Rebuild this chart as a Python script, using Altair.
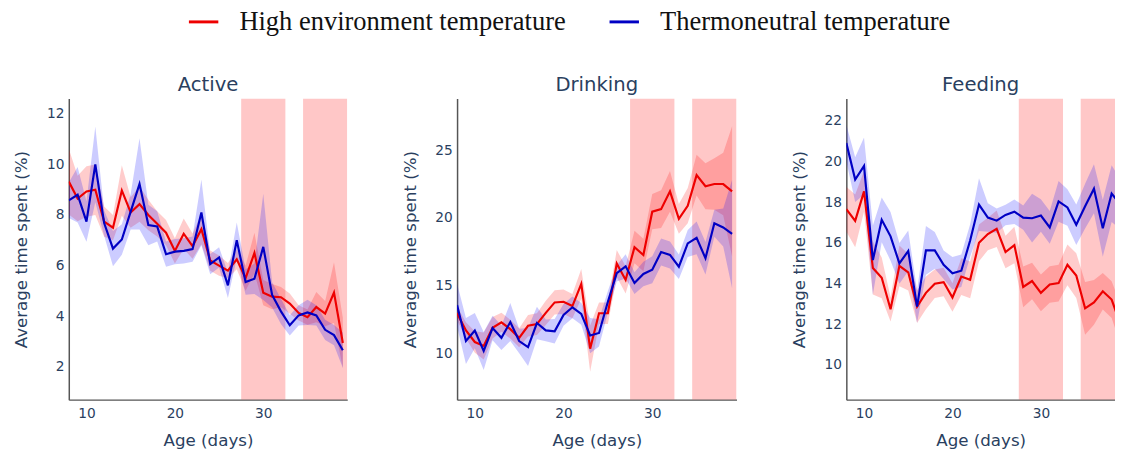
import altair as alt
import pandas as pd

days = list(range(8, 40))
groups = ["High environment temperature", "Thermoneutral temperature"]
panels = ["Active", "Drinking", "Feeding"]

active_high = [9.32, 8.65, 8.93, 9.0, 7.74, 7.5, 8.97, 8.1, 8.43, 8.0, 7.65, 7.3, 6.58, 7.26, 6.77, 7.44,
               6.2, 6.0, 5.8, 6.25, 5.5, 6.5, 4.93, 4.77, 4.75, 4.5, 4.13, 3.96, 4.36, 4.1, 4.93, 2.94]
active_high_err = [1.3, 0.9, 1.0, 1.0, 0.6, 0.5, 1.0, 0.6, 0.7, 0.6, 0.5, 0.5, 0.5, 0.6, 0.5, 0.6,
                   0.4, 0.4, 0.3, 0.4, 0.5, 0.8, 0.5, 0.5, 0.4, 0.4, 0.3, 0.3, 0.6, 0.5, 1.2, 1.0]
active_thermo = [8.58, 8.8, 7.74, 10.0, 7.68, 6.67, 7.03, 8.13, 9.23, 7.6, 7.55, 6.45, 6.55, 6.58, 6.65, 8.1,
                 6.06, 6.32, 5.22, 7.0, 5.35, 5.48, 6.74, 4.84, 4.19, 3.64, 4.03, 4.15, 4.03, 3.46, 3.25, 2.65]
active_thermo_err = [0.7, 1.1, 0.8, 1.5, 0.5, 0.7, 0.6, 0.7, 1.8, 0.8, 0.6, 0.5, 0.5, 0.5, 0.5, 1.3,
                     0.4, 0.4, 0.5, 0.7, 0.5, 0.6, 2.1, 0.5, 0.5, 0.4, 0.4, 0.5, 0.4, 0.4, 0.4, 0.7]

drinking_high = [12.97, 11.7, 10.85, 10.56, 11.9, 12.3, 11.8, 11.16, 12.05, 12.17, 13.0, 13.77, 13.82, 13.5, 15.14, 10.36,
                 12.97, 12.97, 16.64, 15.43, 17.85, 17.27, 20.46, 20.65, 21.96, 19.93, 20.9, 23.16, 22.34, 22.5, 22.5, 21.96]
drinking_high_err = [0.5, 0.6, 0.8, 1.0, 0.8, 0.7, 0.7, 0.7, 0.8, 0.8, 0.9, 0.9, 0.9, 0.9, 1.1, 1.7,
                     0.8, 0.8, 1.0, 1.0, 1.2, 1.2, 1.3, 1.4, 1.5, 1.1, 1.3, 1.5, 1.7, 1.9, 2.3, 4.8]
drinking_thermo = [13.57, 10.92, 11.69, 10.19, 11.88, 11.16, 12.32, 10.92, 10.48, 12.25, 11.71, 11.64, 12.85, 13.41, 12.92, 11.33,
                   11.52, 13.82, 15.92, 16.43, 15.2, 15.87, 16.18, 17.49, 17.27, 16.4, 18.12, 18.53, 17.03, 19.61, 19.3, 18.82]
drinking_thermo_err = [1.6, 1.7, 1.3, 1.4, 0.9, 0.9, 1.4, 0.9, 1.4, 1.2, 0.8, 0.9, 0.8, 0.8, 0.8, 1.3,
                       1.0, 0.8, 0.6, 0.9, 0.8, 0.9, 1.0, 1.0, 1.0, 0.9, 1.0, 1.2, 1.2, 1.0, 1.4, 4.0]

feeding_high = [17.67, 17.09, 18.54, 14.77, 14.29, 12.74, 14.88, 14.56, 12.87, 13.55, 14.0, 14.08, 13.32, 14.35, 14.19, 16.01,
                16.44, 16.7, 15.56, 15.9, 13.84, 14.13, 13.55, 13.96, 14.03, 14.93, 14.4, 12.79, 13.08, 13.63, 13.22, 12.0]
feeding_high_err = [1.1, 1.3, 1.0, 1.3, 1.0, 0.6, 1.0, 0.9, 0.8, 0.8, 0.7, 0.7, 0.7, 0.9, 0.9, 0.9,
                    0.8, 0.9, 0.8, 0.9, 1.0, 0.9, 0.9, 0.9, 0.9, 1.0, 1.1, 1.3, 1.1, 0.9, 0.9, 1.0]
feeding_thermo = [20.92, 19.12, 19.79, 15.16, 17.14, 16.33, 15.0, 15.61, 12.87, 15.64, 15.64, 14.93, 14.51, 14.64, 16.12, 17.89,
                  17.25, 17.1, 17.38, 17.54, 17.25, 17.22, 17.35, 16.77, 18.05, 17.75, 16.9, 17.81, 18.67, 16.73, 18.43, 17.9]
feeding_thermo_err = [0.9, 1.1, 1.4, 1.7, 1.1, 1.2, 1.0, 1.0, 0.8, 1.2, 0.9, 0.7, 0.8, 0.8, 0.8, 1.3,
                      0.7, 0.6, 0.5, 0.6, 0.6, 1.2, 0.8, 0.8, 1.0, 0.9, 1.0, 1.1, 1.2, 1.4, 1.4, 1.2]

heat_start = [27.5, 34.5]
heat_end = [32.5, 39.5]

y_domains = {"Active": [0.7, 12.6], "Drinking": [6.6, 28.8], "Feeding": [8.3, 23.1]}
y_ticks = {"Active": [2, 4, 6, 8, 10, 12], "Drinking": [10, 15, 20, 25],
           "Feeding": [10, 12, 14, 16, 18, 20, 22]}
x_ticks = [10, 20, 30]

series = {
    "Active": [(active_high, active_high_err), (active_thermo, active_thermo_err)],
    "Drinking": [(drinking_high, drinking_high_err), (drinking_thermo, drinking_thermo_err)],
    "Feeding": [(feeding_high, feeding_high_err), (feeding_thermo, feeding_thermo_err)],
}

rows = []
for p in panels:
    for g, (vals, errs) in zip(groups, series[p]):
        for d, v, e in zip(days, vals, errs):
            rows.append({"panel": p, "group": g, "band_group": "band " + g, "day": d,
                         "mean": v, "lo": v - e, "hi": v + e})
df = pd.DataFrame(rows)
shade_df = pd.DataFrame({"start": heat_start, "end": heat_end})

LINE_COLORS = ["#ee0000", "#0000c4"]
BAND_COLORS = ["#ff0000", "#0000ff"]
TXT = "#2a3f5f"
FONT = "DejaVu Sans"

H = 307


def make_panel(name, width, xmax):
    d = df[df.panel == name]
    xs = alt.Scale(domain=[8, xmax], nice=False, zero=False)
    ys = alt.Scale(domain=y_domains[name], nice=False, zero=False)
    xaxis = alt.Axis(values=x_ticks, title="Age (days)", format="d")
    yaxis = alt.Axis(values=y_ticks[name], title="Average time spent (%)", format="d")

    shade = alt.Chart(shade_df).mark_rect(color="#ff0000", opacity=0.22, clip=True).encode(
        x=alt.X("start:Q", scale=xs, axis=xaxis),
        x2="end:Q",
        y=alt.value(0),
        y2=alt.value(H),
    )
    band = alt.Chart(d).mark_area(fillOpacity=0.2, clip=True).encode(
        x=alt.X("day:Q", scale=xs, axis=xaxis),
        y=alt.Y("lo:Q", scale=ys, axis=yaxis),
        y2="hi:Q",
        fill=alt.Fill("band_group:N",
                      scale=alt.Scale(domain=["band " + g for g in groups], range=BAND_COLORS),
                      legend=None),
    )
    line = alt.Chart(d).mark_line(strokeWidth=2.2, clip=True).encode(
        x=alt.X("day:Q", scale=xs, axis=xaxis),
        y=alt.Y("mean:Q", scale=ys, axis=yaxis),
        color=alt.Color("group:N", scale=alt.Scale(domain=groups, range=LINE_COLORS)),
    )
    return alt.layer(shade, band, line).properties(
        width=width, height=H, title=alt.TitleParams(name, fontSize=20, font=FONT, fontWeight="normal",
                                                     color=TXT, offset=4)
    )


p1 = make_panel("Active", 284, 39.5)
p2 = make_panel("Drinking", 285, 39.5)
p3 = make_panel("Feeding", 274, 38.38)

chart = alt.hconcat(p1, p2, p3, spacing=55).resolve_scale(
    x="independent", y="independent"
).properties(
    padding={"left": 5, "top": -7, "right": 0, "bottom": 0}
).configure_view(stroke=None).configure_axis(
    grid=False, ticks=False, domainColor="#555555", domainWidth=1.5,
    labelColor=TXT, labelFont=FONT, labelFontSize=14, labelPadding=5,
    titleColor=TXT, titleFont=FONT, titleFontSize=17, titleFontWeight="normal",
).configure_axisX(titlePadding=13, labelPadding=7).configure_axisY(titlePadding=16
).configure_legend(
    title=None, orient="none", legendX=121, legendY=-95,
    direction="horizontal", symbolType="stroke",
    symbolSize=900, symbolStrokeWidth=3,
    labelFont="Liberation Serif", labelFontSize=27,
    labelColor="#111111", labelOffset=20,
    columnPadding=38, labelLimit=500,
)

chart.save("out.html", embed_options={"renderer": "svg", "actions": False})
